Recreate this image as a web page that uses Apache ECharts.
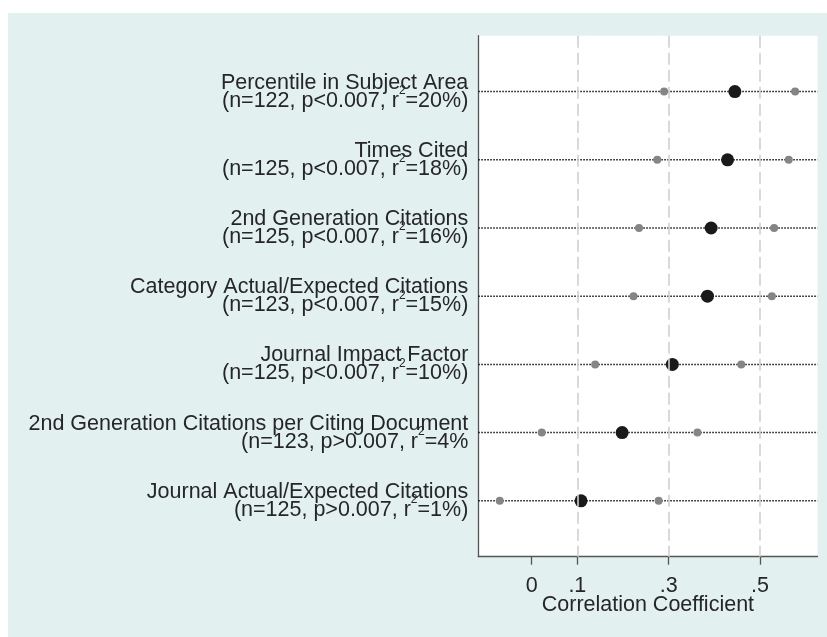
<!DOCTYPE html>
<html>
<head>
<meta charset="utf-8">
<script src="https://cdn.jsdelivr.net/npm/echarts@6/dist/echarts.min.js"></script>
<style>
html,body{margin:0;padding:0;background:#ffffff;width:827px;height:637px;overflow:hidden;}
#chart{position:absolute;left:8px;top:13px;width:819px;height:624px;}
</style>
</head>
<body>
<div id="chart"></div>
<script>
// ---- data ----
const measures = [
  'Percentile in Subject Area',
  'Times Cited',
  '2nd Generation Citations',
  'Category Actual/Expected Citations',
  'Journal Impact Factor',
  '2nd Generation Citations per Citing Document',
  'Journal Actual/Expected Citations'
];
const nValues = [122, 125, 125, 123, 125, 123, 125];
const pText = ['p<0.007', 'p<0.007', 'p<0.007', 'p<0.007', 'p<0.007', 'p>0.007', 'p>0.007'];
const r2Text = ['20%)', '18%)', '16%)', '15%)', '10%)', '4%', '1%)'];
const ciLower = [0.290, 0.275, 0.235, 0.223, 0.139, 0.022, -0.070];
const estimate = [0.445, 0.429, 0.393, 0.385, 0.308, 0.198, 0.108];
const ciUpper = [0.577, 0.563, 0.531, 0.526, 0.459, 0.363, 0.278];
const xTickValues = [0, 0.1, 0.3, 0.5];
const xTickLabels = ['0', '.1', '.3', '.5'];
const gridValues = [0.1, 0.3, 0.5];
const xTitle = 'Correlation Coefficient';

// ---- build ----
const rows = measures.map((_, i) => i + 1);
const font = "'Liberation Sans', Arial, sans-serif";
const txt = '#262626';
const fs = 21.5;

const chart = echarts.init(document.getElementById('chart'), null, {renderer: 'canvas'});
const option = {
  backgroundColor: '#e2f0f0',
  animation: false,
  grid: {
    left: 470.3, right: 9.5, top: 22.7, bottom: 80.3,
    show: true, backgroundColor: '#ffffff', borderWidth: 0
  },
  xAxis: {
    type: 'value',
    min: -0.117, max: 0.626,
    name: xTitle,
    nameLocation: 'middle',
    nameGap: 37,
    nameMoveOverlap: false,
    nameTextStyle: {fontFamily: font, fontSize: fs, color: txt},
    axisLine: {show: true, onZero: false, lineStyle: {color: '#555', width: 1.3}},
    axisTick: {show: true, length: 8, customValues: xTickValues, lineStyle: {color: '#555', width: 1.3}},
    axisLabel: {
      customValues: xTickValues,
      margin: 18,
      fontFamily: font, fontSize: fs, color: txt,
      formatter: v => {
        const k = xTickValues.findIndex(t => Math.abs(t - v) < 1e-9);
        return k >= 0 ? xTickLabels[k] : '';
      }
    },
    splitLine: {show: false}
  },
  yAxis: {
    type: 'value',
    inverse: true,
    min: 0.18, max: 7.82,
    axisLine: {show: true, onZero: false, lineStyle: {color: '#555', width: 1.3}},
    axisTick: {show: false},
    splitLine: {show: false},
    axisLabel: {
      customValues: rows,
      margin: 10,
      align: 'right',
      formatter: v => {
        const i = Math.round(v) - 1;
        if (i < 0 || i >= measures.length) return '';
        return '{a|' + measures[i] + '}\n{a|(n=' + nValues[i] + ', ' + pText[i] + ', r}{s|2}{a|=' + r2Text[i] + '}';
      },
      rich: {
        a: {fontFamily: font, fontSize: fs, color: txt, lineHeight: 18},
        s: {fontFamily: font, fontSize: 12, color: txt, lineHeight: 4, verticalAlign: 'bottom', padding: [0, 0, 13, 0]}
      }
    }
  },
  series: [
    {
      type: 'custom',
      silent: true,
      data: rows.map((r, i) => [ciLower[i], r]),
      encode: {x: 0, y: 1},
      renderItem: (params, api) => {
        const y = api.coord([0, api.value(1)])[1];
        const cs = params.coordSys;
        return {
          type: 'line',
          shape: {x1: cs.x, y1: y, x2: cs.x + cs.width, y2: y},
          style: {stroke: '#111111', lineWidth: 1.5, lineDash: [1.5, 1.5]}
        };
      },
      markLine: {
        silent: true,
        symbol: 'none',
        label: {show: false},
        lineStyle: {color: '#d0d0d0', type: [12, 5], width: 1.6},
        data: gridValues.map(v => ({xAxis: v}))
      },
      z: 1
    },
    {
      type: 'scatter',
      silent: true,
      symbolSize: 8,
      itemStyle: {color: '#858585', opacity: 1},
      data: rows.map((r, i) => [ciLower[i], r]),
      z: 3
    },
    {
      type: 'scatter',
      silent: true,
      symbolSize: 8,
      itemStyle: {color: '#858585', opacity: 1},
      data: rows.map((r, i) => [ciUpper[i], r]),
      z: 3
    },
    {
      type: 'scatter',
      silent: true,
      symbolSize: 13,
      itemStyle: {color: '#1a1a1a', opacity: 1},
      data: rows.map((r, i) => [estimate[i], r]),
      z: 4
    }
  ]
};
chart.setOption(option);
</script>
</body>
</html>
